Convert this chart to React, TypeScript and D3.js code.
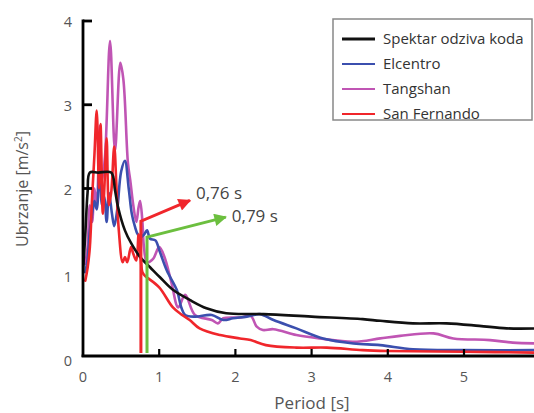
import React from "react";
import * as d3 from "d3";

const W = 534;
const H = 413;

const xTicks = [0, 1, 2, 3, 4, 5];
const yTicks = [0, 1, 2, 3, 4];
const yTickMarks = [2, 3, 4];

const seriesNames = ["Spektar odziva koda", "Elcentro", "Tangshan", "San Fernando"];
const seriesColors = ["#111111", "#3b4fae", "#c055b4", "#f0262b"];

const codeT = [0, 0.03, 0.06, 0.09, 0.2, 0.37, 0.42, 0.46, 0.55, 0.63, 0.75, 0.88, 1.01, 1.18, 1.4, 1.62, 1.88, 2.37, 3.0, 3.67, 3.9, 4.33, 4.77, 5.2, 5.56, 6.0];
const codeV = [1.0, 1.45, 1.95, 2.19, 2.19, 2.19, 1.98, 1.78, 1.5, 1.35, 1.18, 1.06, 0.94, 0.79, 0.67, 0.57, 0.51, 0.5, 0.47, 0.44, 0.42, 0.39, 0.39, 0.36, 0.33, 0.33];

const elT = [0.03, 0.06, 0.09, 0.12, 0.15, 0.18, 0.22, 0.25, 0.28, 0.31, 0.34, 0.38, 0.41, 0.45, 0.5, 0.55, 0.6, 0.64, 0.68, 0.72, 0.76, 0.8, 0.84, 0.88, 0.95, 1.01, 1.1, 1.23, 1.29, 1.34, 1.47, 1.69, 1.84, 1.97, 2.15, 2.32, 2.5, 2.8, 3.15, 3.55, 3.9, 4.33, 5.0, 6.0];
const elV = [1.0, 1.15, 1.5, 1.7, 1.85, 1.75, 2.3, 1.8, 1.9, 1.6, 1.95, 1.7, 1.55, 1.75, 2.2, 2.33, 2.0, 1.7, 1.55, 1.45, 1.42, 1.45, 1.5, 1.4, 1.38, 1.24, 1.02, 0.79, 0.58, 0.49, 0.47, 0.49, 0.43, 0.45, 0.47, 0.5, 0.43, 0.33, 0.21, 0.15, 0.13, 0.08, 0.07, 0.07];

const tsT = [0.03, 0.06, 0.09, 0.12, 0.15, 0.18, 0.22, 0.25, 0.29, 0.355, 0.42, 0.49, 0.53, 0.59, 0.62, 0.66, 0.7, 0.73, 0.75, 0.78, 0.8, 0.84, 0.92, 1.0, 1.07, 1.16, 1.25, 1.34, 1.47, 1.69, 1.77, 1.84, 2.07, 2.2, 2.28, 2.36, 2.5, 2.8, 3.1, 3.55, 3.9, 4.16, 4.6, 4.86, 5.34, 5.64, 6.0];
const tsV = [1.1, 1.3, 1.8, 1.6, 2.0, 1.8, 2.75, 2.1, 2.4, 3.76, 2.45, 3.5, 3.3, 2.3, 2.1, 1.8, 1.6, 1.78, 1.85, 1.6, 1.3, 1.12, 1.16, 1.3, 1.18, 0.88, 0.58, 0.73, 0.49, 0.43, 0.39, 0.45, 0.46, 0.48, 0.35, 0.31, 0.32, 0.25, 0.21, 0.17, 0.21, 0.24, 0.27, 0.21, 0.19, 0.16, 0.15];

const sfT = [0.03, 0.06, 0.09, 0.12, 0.15, 0.18, 0.21, 0.23, 0.26, 0.28, 0.31, 0.34, 0.37, 0.41, 0.44, 0.47, 0.52, 0.55, 0.58, 0.63, 0.66, 0.7, 0.73, 0.76, 0.78, 0.82, 0.85, 1.0, 1.18, 1.3, 1.4, 1.53, 1.8, 2.06, 2.2, 2.4, 2.8, 3.2, 3.67, 4.0, 5.0, 6.0];
const sfV = [0.9, 1.05, 1.3, 1.9, 2.4, 2.93, 2.0, 2.77, 1.7, 2.0, 2.6, 1.8, 1.95, 2.5, 2.0, 1.5, 1.12, 1.18, 1.12, 1.3, 1.22, 1.14, 1.45, 1.14, 1.0, 0.95, 0.93, 0.82, 0.58, 0.49, 0.43, 0.33, 0.25, 0.21, 0.19, 0.13, 0.1, 0.1, 0.07, 0.06, 0.05, 0.04];

const seriesT = [codeT, elT, tsT, sfT];
const seriesV = [codeV, elV, tsV, sfV];

// annotations: period position, corner value, arrow tip (period, value), label
const annLabels = ["0,76 s", "0,79 s"];
const annColors = ["#f0262b", "#6cbf3f"];
const annT = [0.76, 0.84];
const annCornerV = [1.61, 1.42];
const annTipT = [1.43, 1.9];
const annTipV = [1.87, 1.67];

const FONT = "'Open Sans', 'Noto Sans', sans-serif";

export default function App() {
  const x = d3.scaleLinear().domain([0, 5]).range([83, 464]);
  const y = d3.scaleLinear().domain([0, 4]).range([356, 21]);
  const line = d3
    .line<[number, number]>()
    .x((d) => x(d[0]))
    .y((d) => y(d[1]))
    .curve(d3.curveCatmullRom.alpha(0.5));

  return (
    <svg
      width={W}
      height={H}
      style={{ position: "absolute", left: 0, top: 0, background: "#fff" }}
      fontFamily={FONT}
    >
      <defs>
        <clipPath id="plotclip">
          <rect x={83} y={0} width={W - 83} height={356} />
        </clipPath>
        {annColors.map((c, i) => (
          <marker
            key={i}
            id={`arrow${i}`}
            viewBox="0 0 10 10"
            refX={9}
            refY={5}
            markerWidth={4.6}
            markerHeight={4.2}
            orient="auto"
            markerUnits="strokeWidth"
          >
            <path d="M0,0 L10,5 L0,10 Z" fill={c} />
          </marker>
        ))}
      </defs>

      <g clipPath="url(#plotclip)">
        {[2, 1, 3, 0].map((si) => (
          <path
            key={si}
            d={line(seriesT[si].map((t, j) => [t, seriesV[si][j]] as [number, number])) || ""}
            fill="none"
            stroke={seriesColors[si]}
            strokeWidth={2.6}
            strokeLinejoin="round"
            strokeLinecap="round"
          />
        ))}
      </g>

      {annT.map((t, i) => (
        <g key={i}>
          <polyline
            points={`${x(t)},${y(0) - 3} ${x(t)},${y(annCornerV[i])} ${x(annTipT[i]) - 2},${y(annTipV[i]) + 1}`}
            fill="none"
            stroke={annColors[i]}
            strokeWidth={3}
            markerEnd={`url(#arrow${i})`}
          />
          <text
            x={x(annTipT[i]) + 4}
            y={y(annTipV[i]) - (i === 0 ? 6 : 0)}
            dy="0.35em"
            fontSize={17}
            fill="#444"
          >
            {annLabels[i]}
          </text>
        </g>
      ))}

      {/* axes */}
      <line x1={83} x2={83} y1={19.5} y2={357} stroke="#000" strokeWidth={2.8} />
      <line x1={81.6} x2={W} y1={356} y2={356} stroke="#000" strokeWidth={2.8} />
      {yTickMarks.map((v) => (
        <line key={v} x1={83} x2={92} y1={y(v)} y2={y(v)} stroke="#000" strokeWidth={2.8} />
      ))}
      {xTicks.filter((v) => v > 0).map((v) => (
        <line key={v} x1={x(v)} x2={x(v)} y1={356} y2={349} stroke="#000" strokeWidth={2.2} />
      ))}
      {yTicks.map((v) => (
        <text
          key={v}
          x={72}
          y={y(v) + (v < 2 ? 5 : 1)}
          dy="0.35em"
          textAnchor="end"
          fontSize={14.5}
          fill="#555"
        >
          {v}
        </text>
      ))}
      {xTicks.map((v) => (
        <text key={v} x={x(v)} y={377} dy="0.35em" textAnchor="middle" fontSize={14.5} fill="#555">
          {v}
        </text>
      ))}
      <text x={312} y={403} dy="0.35em" textAnchor="middle" fontSize={17} fill="#555">
        Period [s]
      </text>
      <text
        transform="translate(22,189) rotate(-90)"
        dy="0.35em"
        textAnchor="middle"
        fontSize={16}
        fill="#555"
      >
        Ubrzanje [m/s<tspan dy="-6" fontSize={10}>2</tspan>
        <tspan dy="6">]</tspan>
      </text>

      {/* legend */}
      <rect x={333} y={19} width={199} height={101} fill="#fff" stroke="#888" strokeWidth={1.5} />
      {seriesNames.map((n, i) => (
        <g key={n}>
          <line
            x1={342}
            x2={375}
            y1={39 + i * 25}
            y2={39 + i * 25}
            stroke={seriesColors[i]}
            strokeWidth={i === 0 ? 3 : 2.2}
          />
          <text x={383} y={39 + i * 25} dy="0.35em" fontSize={15} fill="#333">
            {n}
          </text>
        </g>
      ))}
    </svg>
  );
}
